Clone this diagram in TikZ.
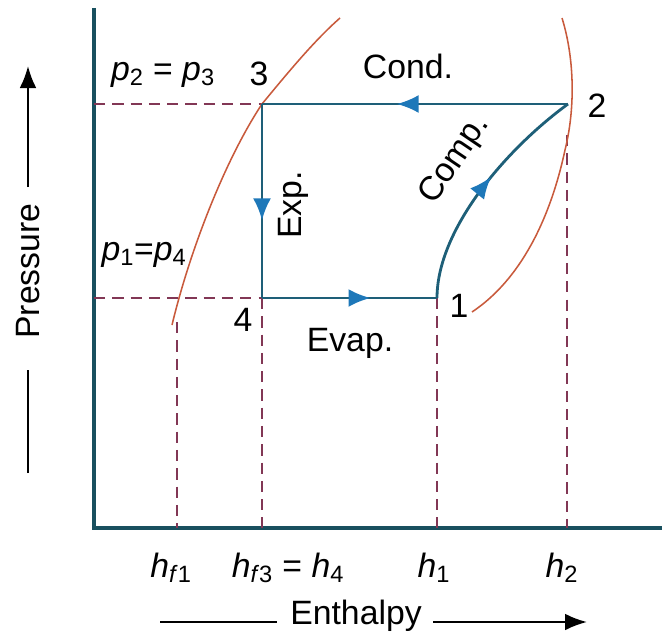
\documentclass[tikz,border=0pt]{standalone}
\usepackage{fontspec}
\setmainfont{Liberation Sans}
\usepackage{xcolor}
\usetikzlibrary{arrows.meta,decorations.markings}

\definecolor{axisteal}{RGB}{25,80,95}
\definecolor{cycleteal}{RGB}{30,95,120}
\definecolor{tipblue}{RGB}{30,120,185}
\definecolor{satred}{RGB}{200,90,60}
\definecolor{dashplum}{RGB}{130,55,85}

\newcommand{\vsub}[2]{\textit{#1}\textsubscript{#2}}

\tikzset{
    cycleline/.style={cycleteal, line width=2pt},
    satline/.style={satred, line width=1.1pt},
    dashline/.style={dashplum, line width=2pt, dash pattern=on 8pt off 5pt},
    midarrow/.style={postaction={decorate}, decoration={markings,
        mark=at position #1 with {\arrow[tipblue]{Latex[length=0.55cm,width=0.45cm]}}}},
    axisarrow/.style={black, line width=1.6pt, -{Latex[length=0.55cm,width=0.42cm]}}
}

\begin{document}
\begin{tikzpicture}[x=0.025cm, y=-0.025cm, font=\fontsize{24}{28}\selectfont]
    \useasboundingbox (0,0) rectangle (662,643);

    % axes
    \coordinate (top) at (94,8);
    \coordinate (o) at (94,528);
    \coordinate (right) at (662,528);
    \draw[axisteal, line width=2.2pt] (top) -- (o) -- (right);

    % cycle states
    \coordinate (s1) at (437,298);
    \coordinate (s2) at (568,104);
    \coordinate (s3) at (262,104);
    \coordinate (s4) at (262,298);
    \coordinate (f1) at (177,322);
    \coordinate (f2) at (567,135);

    % projections
    \draw[dashline] (o |- s3) -- (s3);
    \draw[dashline] (o |- s4) -- (s4);
    \foreach \p in {f1,s4,s1,f2}
        \draw[dashline] (\p) -- (\p |- o);

    % saturation lines
    \draw[satline] (172,325) .. controls (190,250) and (225,160) .. (s3)
        .. controls (290,70) and (315,40) .. (340,18);
    \draw[satline] (562,18) .. controls (575,60) and (575,110) .. (565,150)
        .. controls (550,220) and (520,280) .. (472,312);

    % the cycle
    \draw[cycleline, midarrow=0.56] (s2) -- (s3);
    \draw[cycleline, midarrow=0.6] (s3) -- (s4);
    \draw[cycleline, midarrow=0.62] (s4) -- (s1);
    \draw[cycleline, midarrow=0.56] (s1) .. controls (437,230) and (505,150) .. (s2);

    % labels
    \node (pp23) at (163,75) {\vsub{p}{2} = \vsub{p}{3}};
    \node (pp14) at (144,255) {\vsub{p}{1}=\vsub{p}{4}};
    \node (n3) at (259,74) {3};
    \node (n2) at (597,106) {2};
    \node (n1) at (459,306) {1};
    \node (n4) at (243,320) {4};
    \node (cond) at (408,66) {Cond.};
    \node (evap) at (350,343) {Evap.};
    \node[rotate=90] (exp) at (293,205) {Exp.};
    \node[rotate=56] (comp) at (455,160) {Comp.};

    \node (hf1) at (171,568) {\textit{h}\textsubscript{\textit{f}1}};
    \node (hf3) at (288,568) {\textit{h}\textsubscript{\textit{f}3} = \vsub{h}{4}};
    \node (hh1) at (434,568) {\vsub{h}{1}};
    \node (hh2) at (562,568) {\vsub{h}{2}};

    % axis titles
    \node (enth) at (356,616) {Enthalpy};
    \coordinate (ea) at (160,622);
    \coordinate (eb) at (277,622);
    \coordinate (ec) at (433,622);
    \coordinate (ed) at (587,622);
    \draw[black, line width=1.6pt] (ea) -- (eb);
    \draw[axisarrow] (ec) -- (ed);

    \node[rotate=90] (pres) at (28,271) {Pressure};
    \coordinate (pa) at (28,473);
    \coordinate (pb) at (28,370);
    \coordinate (pc) at (28,187);
    \coordinate (pd) at (28,66);
    \draw[black, line width=1.6pt] (pa) -- (pb);
    \draw[axisarrow] (pc) -- (pd);
\end{tikzpicture}
\end{document}
